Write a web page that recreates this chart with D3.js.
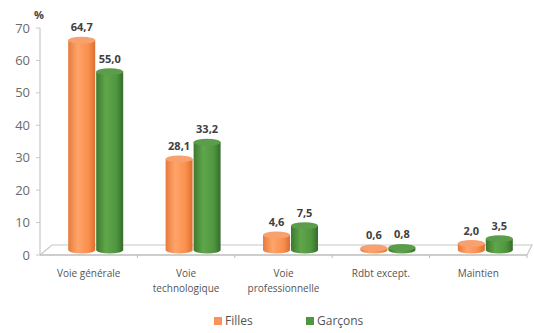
<!DOCTYPE html>
<html><head><meta charset="utf-8">
<script src="https://cdn.jsdelivr.net/npm/d3@7"></script>
<style>body{margin:0;background:#fff;}svg{display:block;font-family:"Open Sans",sans-serif;}</style>
</head><body><svg id="c" width="534" height="333"></svg>
<script>
const categories = ["Voie générale", "Voie\ntechnologique", "Voie\nprofessionnelle", "Rdbt except.", "Maintien"];
const filles = [64.7, 28.1, 4.6, 0.6, 2.0];
const garcons = [55.0, 33.2, 7.5, 0.8, 3.5];
const seriesNames = ["Filles", "Garçons"];
const yTicks = [0, 10, 20, 30, 40, 50, 60, 70];

const svg = d3.select("#c");
const x0 = 40, x1 = 527, depthX = 12, depthY = 10;
const y = d3.scaleLinear().domain([0, 70]).range([255, 28]);
const xBand = d3.scaleBand().domain(categories).range([x0, x1]);
const xInner = d3.scaleBand().domain(seriesNames).range([0, 56]);

const defs = svg.append("defs");
function grad(id, stops) {
  const g = defs.append("linearGradient").attr("id", id).attr("x1", "0").attr("x2", "1").attr("y1", "0").attr("y2", "0");
  stops.forEach(s => g.append("stop").attr("offset", s[0]).attr("stop-color", s[1]));
}
grad("gO", [[0, "#e87a3c"], [0.35, "#ffa46a"], [0.75, "#f98f4d"], [1, "#dc6e30"]]);
grad("gG", [[0, "#3c7a2e"], [0.35, "#5fa64b"], [0.75, "#4f9640"], [1, "#356c29"]]);
const topCol = ["#f7a070", "#5c9d4c"];
const fills = ["url(#gO)", "url(#gG)"];

// floor
const floorY = y(0);
svg.append("path")
  .attr("d", `M${x0},${floorY} L${x0 + depthX},${floorY - depthY} L${x1 + 5},${floorY - depthY} L${x1},${floorY}`)
  .attr("fill", "none").attr("stroke", "#c8c8c8").attr("stroke-width", 1.2);
svg.append("line").attr("x1", x0).attr("x2", x1).attr("y1", floorY).attr("y2", floorY)
  .attr("stroke", "#bdbdbd").attr("stroke-width", 1.4);
// y axis
svg.append("line").attr("x1", x0).attr("x2", x0).attr("y1", y(70)).attr("y2", floorY)
  .attr("stroke", "#c8c8c8").attr("stroke-width", 1.2);
yTicks.forEach(t => {
  svg.append("line").attr("x1", x0 - 4).attr("x2", x0).attr("y1", y(t)).attr("y2", y(t)).attr("stroke", "#c8c8c8");
  svg.append("text").attr("x", x0 - 10).attr("y", y(t)).attr("dy", "0.35em").attr("text-anchor", "end")
    .attr("font-size", 13).attr("fill", "#6b6b6b").text(t);
});
// x ticks
xBand.domain().forEach((c, i) => {
  const xx = x0 + i * xBand.step();
  if (i > 0) svg.append("line").attr("x1", xx).attr("x2", xx).attr("y1", floorY).attr("y2", floorY + 3).attr("stroke", "#bdbdbd");
});
svg.append("line").attr("x1", x1).attr("x2", x1).attr("y1", floorY).attr("y2", floorY + 3).attr("stroke", "#bdbdbd");
svg.append("text").attr("x", 34).attr("y", 19).attr("font-size", 11).attr("font-weight", "bold").attr("fill", "#444").text("%");

// bars
const fmt = v => v.toFixed(1).replace(".", ",");
const rx = 13.5, ry = 3.5, baseY = floorY - 5;
[filles, garcons].forEach((vals, s) => {
  vals.forEach((v, i) => {
    const c = categories[i];
    const cx = xBand(c) + xBand.bandwidth() / 2 - 28 + xInner(seriesNames[s]) + xInner.bandwidth() / 2 + 7;
    const topY = y(v) - 5;
    const g = svg.append("g");
    g.append("path")
      .attr("d", `M${cx - rx},${topY} L${cx - rx},${baseY} A${rx},${ry} 0 0 0 ${cx + rx},${baseY} L${cx + rx},${topY} Z`)
      .attr("fill", fills[s]);
    g.append("ellipse").attr("cx", cx).attr("cy", topY).attr("rx", rx).attr("ry", ry).attr("fill", topCol[s]);
    svg.append("text").attr("x", cx).attr("y", topY - 9).attr("text-anchor", "middle")
      .attr("font-size", 11).attr("font-weight", "bold").attr("fill", "#404040").text(fmt(v));
  });
});

// category labels
categories.forEach(c => {
  const lines = c.split("\n");
  const t = svg.append("text").attr("text-anchor", "middle").attr("font-size", 10).attr("fill", "#555");
  lines.forEach((l, k) => t.append("tspan").attr("x", xBand(c) + xBand.bandwidth() / 2).attr("y", 277 + k * 15).text(l));
});

// legend
const leg = [{ x: 214, s: 0 }, { x: 306, s: 1 }];
const legCol = ["#f9935a", "#4f9640"];
leg.forEach(l => {
  svg.append("rect").attr("x", l.x).attr("y", 317).attr("width", 8).attr("height", 8).attr("fill", legCol[l.s]);
  svg.append("text").attr("x", l.x + 11).attr("y", 325).attr("font-size", 12).attr("fill", "#555").text(seriesNames[l.s]);
});
</script></body></html>
